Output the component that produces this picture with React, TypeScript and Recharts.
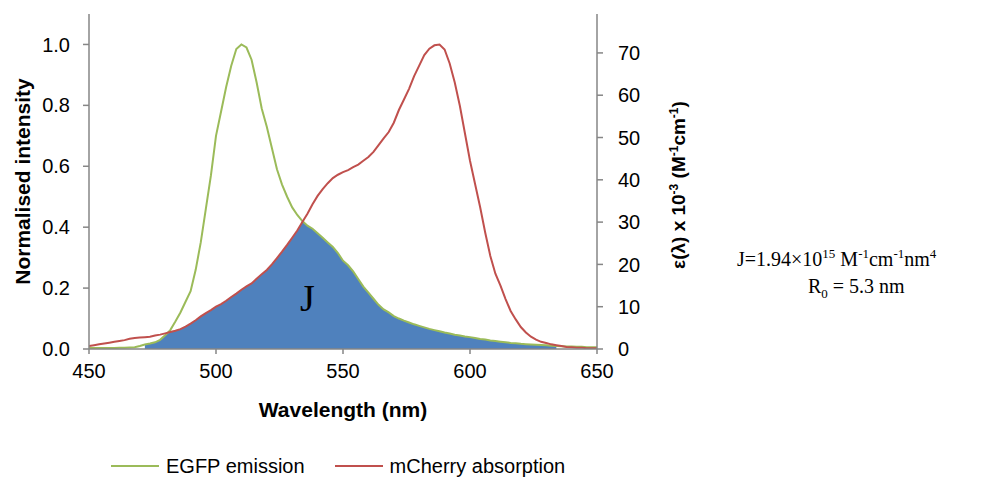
import {
  Area,
  ComposedChart,
  Line,
  ReferenceDot,
  XAxis,
  YAxis,
} from 'recharts'

// wavelength grid (nm)
const wavelengths = [
  450, 452, 454, 456, 458, 460, 462, 464, 466, 468, 470, 472, 474, 476, 478, 480, 482, 484, 486, 488,
  490, 492, 494, 496, 498, 500, 502, 504, 506, 508, 510, 512, 514, 516, 518, 520, 522, 524, 526, 528,
  530, 532, 534, 536, 538, 540, 542, 544, 546, 548, 550, 552, 554, 556, 558, 560, 562, 564, 566, 568,
  570, 572, 574, 576, 578, 580, 582, 584, 586, 588, 590, 592, 594, 596, 598, 600, 602, 604, 606, 608,
  610, 612, 614, 616, 618, 620, 622, 624, 626, 628, 630, 632, 634, 636, 638, 640, 642, 644, 646, 648,
  650,
]

// normalised EGFP emission
const egfpEmission = [
  0.003, 0.003, 0.003, 0.003, 0.003, 0.003, 0.004, 0.004, 0.005, 0.006, 0.01, 0.015, 0.018, 0.022, 0.03, 0.045, 0.062, 0.09, 0.12, 0.155,
  0.19, 0.26, 0.35, 0.46, 0.57, 0.7, 0.78, 0.86, 0.93, 0.985, 1.0, 0.99, 0.95, 0.875, 0.79, 0.73, 0.66, 0.59, 0.54, 0.5,
  0.465, 0.44, 0.42, 0.405, 0.395, 0.38, 0.365, 0.35, 0.335, 0.315, 0.29, 0.275, 0.255, 0.23, 0.205, 0.185, 0.165, 0.145, 0.13, 0.12,
  0.108, 0.1, 0.093, 0.087, 0.081, 0.076, 0.071, 0.066, 0.062, 0.058, 0.054, 0.051, 0.047, 0.044, 0.041, 0.039, 0.036, 0.033, 0.031, 0.028,
  0.026, 0.024, 0.022, 0.02, 0.019, 0.017, 0.016, 0.015, 0.014, 0.013, 0.012, 0.011, 0.01, 0.009, 0.008, 0.008, 0.007, 0.007, 0.006, 0.006,
  0.006,
]

// mCherry extinction coefficient, x10^-3 M^-1 cm^-1
const mcherryAbsorption = [
  0.7, 0.9, 1.1, 1.3, 1.5, 1.7, 1.9, 2.1, 2.4, 2.6, 2.7, 2.8, 2.9, 3.2, 3.4, 3.7, 4.0, 4.3, 4.7, 5.3,
  6.0, 6.8, 7.7, 8.5, 9.2, 10.0, 10.6, 11.4, 12.3, 13.1, 14.0, 14.8, 15.5, 16.6, 17.7, 18.7, 20.0, 21.5, 23.0, 24.6,
  26.3, 28.0, 30.0, 32.0, 34.2, 36.2, 37.8, 39.2, 40.4, 41.2, 41.8, 42.3, 43.0, 43.6, 44.5, 45.4, 46.6, 48.2, 49.8, 51.3,
  53.5, 56.5, 59.0, 61.5, 64.5, 67.0, 69.5, 71.0, 71.8, 72.0, 70.8, 67.5, 63.0, 57.5, 51.0, 44.5, 39.0, 33.5, 27.5, 22.0,
  17.8, 15.0, 11.8, 9.0, 7.0, 5.2, 3.9, 2.9, 2.2, 1.7, 1.4, 1.1, 0.9, 0.7, 0.5, 0.4, 0.3, 0.3, 0.2, 0.2,
  0.2,
]

const MCHERRY_PEAK = 72
const OVERLAP_START = 472
const OVERLAP_END = 634

const xTicks = [450, 500, 550, 600, 650]
const leftTicks = [0, 0.2, 0.4, 0.6, 0.8, 1.0]
const rightTicks = [0, 10, 20, 30, 40, 50, 60, 70]

const GREEN = '#9BBB59'
const RED = '#C0504D'
const BLUE = '#4F81BD'
const AXIS = '#868686'
const FONT = '"Liberation Sans", Arial, sans-serif'
const SERIF = '"Liberation Serif", "Times New Roman", serif'

const data = wavelengths.map((wl, i) => {
  const egfp = egfpEmission[i]
  const mch = mcherryAbsorption[i]
  const inside = wl >= OVERLAP_START && wl <= OVERLAP_END
  return {
    wl,
    egfp,
    mch,
    overlap: inside ? Math.min(egfp, mch / MCHERRY_PEAK) : null,
  }
})

function RightAxisTitle() {
  const x = 685
  const y = 185
  return (
    <text
      x={x}
      y={y}
      transform={`rotate(-90, ${x}, ${y})`}
      textAnchor="middle"
      fontFamily={FONT}
      fontWeight="bold"
      fontSize={19}
      fill="#000"
    >
      ε(λ) x 10
      <tspan dy={-7} fontSize={12}>-3</tspan>
      <tspan dy={7}> (M</tspan>
      <tspan dy={-7} fontSize={12}>-1</tspan>
      <tspan dy={7}>cm</tspan>
      <tspan dy={-7} fontSize={12}>-1</tspan>
      <tspan dy={7}>)</tspan>
    </text>
  )
}

const legendItems = [
  { label: 'EGFP emission', color: GREEN },
  { label: 'mCherry absorption', color: RED },
]

export default function App() {
  return (
    <div style={{ position: 'absolute', left: 0, top: 0, width: 999, height: 482, background: '#fff' }}>
      <ComposedChart
        width={999}
        height={482}
        data={data}
        margin={{ top: 14, right: 352, bottom: 103, left: 39 }}
      >
        <XAxis
          dataKey="wl"
          type="number"
          domain={[450, 650]}
          ticks={xTicks}
          allowDataOverflow
          height={30}
          tick={{ fill: '#000', fontSize: 20, fontFamily: FONT }}
          tickSize={5}
          tickMargin={10}
          axisLine={{ stroke: AXIS, strokeWidth: 1.5 }}
          tickLine={{ stroke: AXIS, strokeWidth: 1.5 }}
          label={{
            value: 'Wavelength (nm)',
            position: 'insideBottom',
            offset: -38,
            fill: '#000',
            fontSize: 21,
            fontWeight: 'bold',
            fontFamily: FONT,
          }}
        />
        <YAxis
          yAxisId="left"
          type="number"
          domain={[0, 1.1]}
          ticks={leftTicks}
          allowDataOverflow
          width={50}
          tickFormatter={(v: number) => v.toFixed(1)}
          tick={{ fill: '#000', fontSize: 20, fontFamily: FONT }}
          tickSize={6}
          tickMargin={13}
          axisLine={{ stroke: AXIS, strokeWidth: 1.5 }}
          tickLine={{ stroke: AXIS, strokeWidth: 1.5 }}
          label={{
            value: 'Normalised intensity',
            angle: -90,
            position: 'insideLeft',
            offset: -16,
            style: { textAnchor: 'middle' },
            fill: '#000',
            fontSize: 21,
            fontWeight: 'bold',
            fontFamily: FONT,
          }}
        />
        <YAxis
          yAxisId="right"
          orientation="right"
          type="number"
          domain={[0, MCHERRY_PEAK * 1.1]}
          ticks={rightTicks}
          allowDataOverflow
          width={50}
          tick={{ fill: '#000', fontSize: 20, fontFamily: FONT }}
          tickSize={6}
          tickMargin={15}
          axisLine={{ stroke: AXIS, strokeWidth: 1.5 }}
          tickLine={{ stroke: AXIS, strokeWidth: 1.5 }}
          label={<RightAxisTitle />}
        />
        <Area
          yAxisId="left"
          dataKey="overlap"
          type="linear"
          fill={BLUE}
          fillOpacity={1}
          stroke="none"
          isAnimationActive={false}
          legendType="none"
        />
        <Line
          yAxisId="left"
          dataKey="egfp"
          name="EGFP emission"
          type="linear"
          stroke={GREEN}
          strokeWidth={2}
          dot={false}
          isAnimationActive={false}
        />
        <Line
          yAxisId="right"
          dataKey="mch"
          name="mCherry absorption"
          type="linear"
          stroke={RED}
          strokeWidth={2}
          dot={false}
          isAnimationActive={false}
        />
        <ReferenceDot
          yAxisId="left"
          x={536}
          y={0.17}
          r={0}
          fill="none"
          stroke="none"
          label={{ value: 'J', position: 'center', fill: '#000', fontSize: 38, fontFamily: SERIF }}
        />
      </ComposedChart>

      <div
        style={{
          position: 'absolute',
          left: 111,
          top: 454,
          display: 'flex',
          gap: 30,
          fontFamily: FONT,
          fontSize: 20,
          lineHeight: '24px',
          color: '#000',
        }}
      >
        {legendItems.map((it) => (
          <div key={it.label} style={{ display: 'flex', alignItems: 'center', gap: 7 }}>
            <span style={{ display: 'inline-block', width: 48, height: 2, background: it.color }} />
            <span>{it.label}</span>
          </div>
        ))}
      </div>

      <div
        style={{
          position: 'absolute',
          left: 737,
          top: 240,
          fontFamily: SERIF,
          fontSize: 20,
          color: '#000',
          whiteSpace: 'nowrap',
          lineHeight: '27px',
        }}
      >
        <div>
          J=1.94×10<sup style={{ fontSize: 13 }}>15</sup> M<sup style={{ fontSize: 13 }}>-1</sup>cm
          <sup style={{ fontSize: 13 }}>-1</sup>nm<sup style={{ fontSize: 13 }}>4</sup>
        </div>
        <div style={{ paddingLeft: 71 }}>
          R<sub style={{ fontSize: 13 }}>0</sub> = 5.3 nm
        </div>
      </div>
    </div>
  )
}
